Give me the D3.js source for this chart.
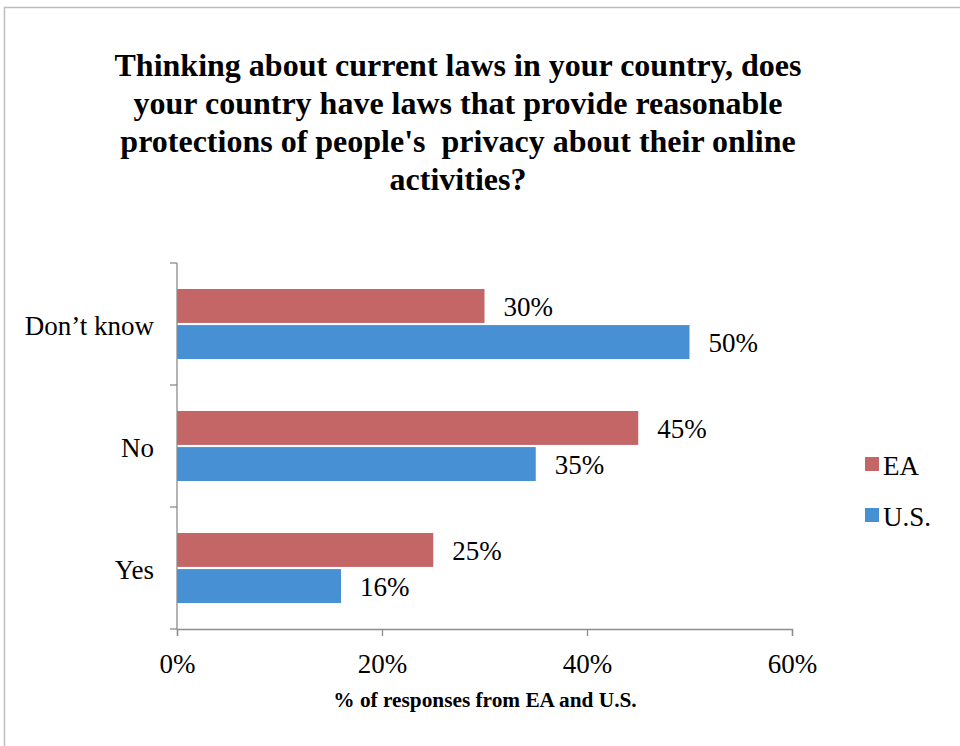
<!DOCTYPE html>
<html>
<head>
<meta charset="utf-8">
<script src="https://cdn.jsdelivr.net/npm/d3@7"></script>
<style>
  html, body { margin: 0; padding: 0; background: #fff; }
  svg { display: block; }
  text { font-family: "Liberation Serif", "Times New Roman", serif; fill: #000; }
</style>
</head>
<body>
<svg id="chart" width="960" height="746"></svg>
<script>
// Survey answers, listed bottom-to-top as drawn on the axis
const categories = ["Yes", "No", "Don\u2019t know"];
const seriesNames = ["EA", "U.S."];
const eaValues = [25, 45, 30];
const usValues = [16, 35, 50];
const xTickValues = [0, 20, 40, 60];
const titleLines = [
  "Thinking about current laws in your country, does",
  "your country have laws that provide reasonable",
  "protections of people's  privacy about their online",
  "activities?"
];
const xAxisTitle = "% of responses from EA and U.S.";
const colors = ["#c46566", "#4790d4"];

const svg = d3.select("#chart");

// outer frame
svg.append("rect")
  .attr("x", 4.5).attr("y", 7.5)
  .attr("width", 970).attr("height", 760)
  .attr("fill", "none").attr("stroke", "#bdbdbd").attr("stroke-width", 1.5);

// title
const title = svg.append("text")
  .attr("text-anchor", "middle")
  .attr("font-weight", "bold")
  .attr("font-size", 32)
  .attr("xml:space", "preserve")
  .style("white-space", "pre");
titleLines.forEach((line, i) => {
  title.append("tspan").attr("x", 458).attr("y", 76 + i * 38).text(line);
});

const plot = { left: 177, right: 792, top: 263, bottom: 629 };

const x = d3.scaleLinear().domain([0, 60]).range([plot.left, plot.right]);
const y = d3.scaleBand().domain(categories.slice().reverse()).range([plot.top, plot.bottom]);
const inner = d3.scaleBand().domain(seriesNames).range([0, y.bandwidth()])
  .paddingInner(0.06).paddingOuter(0.72);

const rows = categories.map((c, i) => ({ cat: c, vals: [eaValues[i], usValues[i]] }));

// bars
const groups = svg.append("g").selectAll("g").data(rows).join("g")
  .attr("transform", d => `translate(0,${y(d.cat)})`);

groups.selectAll("rect").data(d => d.vals.map((v, j) => ({ v, s: seriesNames[j], j })))
  .join("rect")
  .attr("x", x(0))
  .attr("y", d => inner(d.s))
  .attr("width", d => x(d.v) - x(0))
  .attr("height", inner.bandwidth())
  .attr("fill", d => colors[d.j]);

groups.selectAll("text.val").data(d => d.vals.map((v, j) => ({ v, s: seriesNames[j] })))
  .join("text")
  .attr("class", "val")
  .attr("x", d => x(d.v) + 19)
  .attr("y", d => inner(d.s) + inner.bandwidth() / 2 + 1)
  .attr("dy", "0.35em")
  .attr("font-size", 27)
  .text(d => d.v + "%");

// x axis
const xAxis = svg.append("g")
  .attr("transform", `translate(0,${plot.bottom})`)
  .call(d3.axisBottom(x).tickValues(xTickValues).tickFormat(d => d + "%").tickSizeOuter(0).tickSize(7).tickPadding(18));
xAxis.select(".domain").attr("stroke", "#8c8c8c").attr("stroke-width", 1.3);
xAxis.selectAll(".tick line").attr("stroke", "#8c8c8c").attr("stroke-width", 1.3);
xAxis.selectAll(".tick text")
  .attr("font-family", "Liberation Serif, Times New Roman, serif")
  .attr("font-size", 27).attr("fill", "#000");

// y axis: ticks sit on band boundaries
const yAxisG = svg.append("g");
yAxisG.append("line")
  .attr("x1", plot.left).attr("x2", plot.left)
  .attr("y1", plot.top).attr("y2", plot.bottom)
  .attr("stroke", "#8c8c8c").attr("stroke-width", 1.3);
const boundaries = categories.map(c => y(c)).concat([plot.bottom]);
yAxisG.selectAll("line.tk").data(boundaries).join("line")
  .attr("class", "tk")
  .attr("x1", plot.left - 7).attr("x2", plot.left)
  .attr("y1", d => d).attr("y2", d => d)
  .attr("stroke", "#8c8c8c").attr("stroke-width", 1.3);
yAxisG.selectAll("text").data(categories).join("text")
  .attr("x", 154)
  .attr("y", d => y(d) + y.bandwidth() / 2 + 2)
  .attr("dy", "0.35em")
  .attr("text-anchor", "end")
  .attr("font-size", 27)
  .text(d => d);

// x axis title
svg.append("text")
  .attr("x", 485).attr("y", 707)
  .attr("text-anchor", "middle")
  .attr("font-weight", "bold")
  .attr("font-size", 21.3)
  .text(xAxisTitle);

// legend
const legend = svg.append("g");
seriesNames.forEach((s, i) => {
  const ly = 464 + i * 51;
  legend.append("rect")
    .attr("x", 865).attr("y", ly - 7)
    .attr("width", 14).attr("height", 14)
    .attr("fill", colors[i]);
  legend.append("text")
    .attr("x", 883).attr("y", ly + 2)
    .attr("dy", "0.35em")
    .attr("font-size", 27)
    .text(s);
});
</script>
</body>
</html>
